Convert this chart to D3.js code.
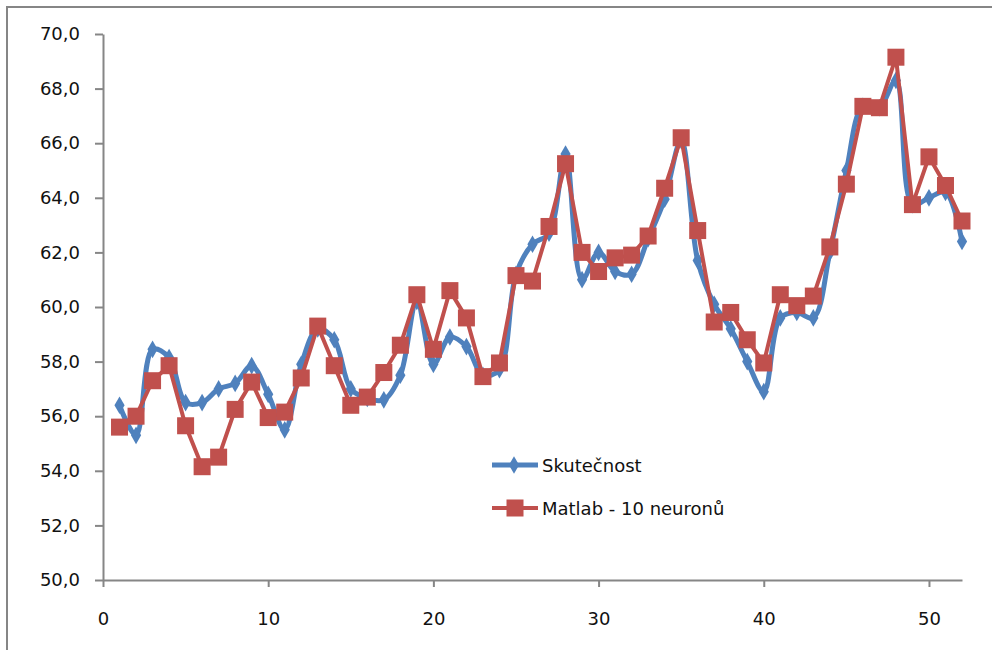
<!DOCTYPE html>
<html>
<head>
<meta charset="utf-8">
<script src="https://cdn.jsdelivr.net/npm/d3@7"></script>
<style>
  body { margin: 0; background: #fff; }
  .axis path, .axis line { stroke: #868686; stroke-width: 2; }
  .axis text { font-family: "DejaVu Sans", sans-serif; font-size: 18px; fill: #111; }
  .legend text { font-family: "DejaVu Sans", sans-serif; font-size: 18px; fill: #111; }
</style>
</head>
<body>
<div id="chart"></div>
<script>
// week index
var weeks = [1, 2, 3, 4, 5, 6, 7, 8, 9, 10, 11, 12, 13, 14, 15, 16, 17, 18, 19, 20,
             21, 22, 23, 24, 25, 26, 27, 28, 29, 30, 31, 32, 33, 34, 35, 36, 37, 38, 39, 40,
             41, 42, 43, 44, 45, 46, 47, 48, 49, 50, 51, 52];

var skutecnost = [56.4, 55.3, 58.45, 58.15, 56.5, 56.5, 57.0, 57.2, 57.85, 56.8,
                  55.5, 57.9, 59.2, 58.8, 57.0, 56.65, 56.6, 57.5, 60.2, 57.9,
                  58.9, 58.55, 57.5, 57.7, 61.2, 62.3, 62.7, 65.6, 61.0, 62.0,
                  61.3, 61.2, 62.5, 63.95, 66.1, 61.7, 60.1, 59.2, 58.0, 56.9,
                  59.6, 59.8, 59.6, 62.0, 65.0, 67.35, 67.3, 68.3, 63.75, 64.0,
                  64.2, 62.4];

var matlab = [55.6, 56.0, 57.3, 57.85, 55.65, 54.15, 54.5, 56.25, 57.25, 55.95,
              56.15, 57.4, 59.3, 57.85, 56.4, 56.7, 57.6, 58.6, 60.45, 58.45,
              60.6, 59.6, 57.45, 57.95, 61.15, 60.95, 62.95, 65.25, 62.0, 61.3,
              61.8, 61.9, 62.6, 64.35, 66.2, 62.8, 59.45, 59.8, 58.8, 57.95,
              60.45, 60.05, 60.4, 62.2, 64.5, 67.35, 67.3, 69.15, 63.75, 65.5,
              64.45, 63.15];

var xTicks = [0, 10, 20, 30, 40, 50];
var yTicks = [50, 52, 54, 56, 58, 60, 62, 64, 66, 68, 70];
var seriesNames = ["Skutečnost", "Matlab - 10 neuronů"];

var W = 992, H = 650;
var margin = {top: 34, right: 30, bottom: 70, left: 103};
var width  = W - margin.left - margin.right;
var height = H - margin.top - margin.bottom;

var blue = "#4f81bd", red = "#c0504d";

var svg = d3.select("#chart").append("svg")
  .attr("width", W)
  .attr("height", H);

// outer chart border
svg.append("rect")
  .attr("x", 7).attr("y", 7)
  .attr("width", W).attr("height", H)
  .attr("fill", "none")
  .attr("stroke", "#868686")
  .attr("stroke-width", 2);

var g = svg.append("g")
  .attr("transform", "translate(" + margin.left + "," + margin.top + ")");

var x = d3.scaleLinear().domain([0, 52]).range([0, width]);
var y = d3.scaleLinear().domain([50, 70]).range([height, 0]);

var fmt = function(d) { return d3.format(".1f")(d).replace(".", ","); };

g.append("g")
  .attr("class", "axis")
  .call(d3.axisLeft(y).tickValues(yTicks).tickFormat(fmt).tickSize(8).tickSizeOuter(0).tickPadding(15));

g.append("g")
  .attr("class", "axis")
  .attr("transform", "translate(0," + height + ")")
  .call(d3.axisBottom(x).tickValues(xTicks).tickFormat(d3.format("d")).tickSize(7).tickSizeOuter(0).tickPadding(25));

var lineBlue = d3.line()
  .x(function(d, i) { return x(weeks[i]); })
  .y(function(d) { return y(d); })
  .curve(d3.curveCatmullRom.alpha(0.5));

var lineRed = d3.line()
  .x(function(d, i) { return x(weeks[i]); })
  .y(function(d) { return y(d); });

g.append("path")
  .datum(skutecnost)
  .attr("fill", "none")
  .attr("stroke", blue)
  .attr("stroke-width", 5)
  .attr("d", lineBlue);

var diamond = d3.symbol().type(d3.symbolDiamond).size(90);

g.selectAll(".dot")
  .data(skutecnost)
  .enter().append("path")
  .attr("class", "dot")
  .attr("transform", function(d, i) { return "translate(" + x(weeks[i]) + "," + y(d) + ")"; })
  .attr("d", diamond)
  .attr("fill", blue);

g.append("path")
  .datum(matlab)
  .attr("fill", "none")
  .attr("stroke", red)
  .attr("stroke-width", 4)
  .attr("d", lineRed);

var sq = 17;
g.selectAll(".sq")
  .data(matlab)
  .enter().append("rect")
  .attr("class", "sq")
  .attr("x", function(d, i) { return x(weeks[i]) - sq / 2; })
  .attr("y", function(d) { return y(d) - sq / 2; })
  .attr("width", sq)
  .attr("height", sq)
  .attr("fill", red);

// legend
var legend = svg.append("g").attr("class", "legend");

var l1 = legend.append("g").attr("transform", "translate(492,465)");
l1.append("line").attr("x1", 0).attr("x2", 46).attr("stroke", blue).attr("stroke-width", 5);
l1.append("path").attr("transform", "translate(22,0)").attr("d", diamond).attr("fill", blue);
l1.append("text").attr("x", 50).attr("y", 7).text(seriesNames[0]);

var l2 = legend.append("g").attr("transform", "translate(492,508)");
l2.append("line").attr("x1", 0).attr("x2", 46).attr("stroke", red).attr("stroke-width", 4);
l2.append("rect").attr("x", 23 - sq / 2).attr("y", -sq / 2).attr("width", sq).attr("height", sq).attr("fill", red);
l2.append("text").attr("x", 50).attr("y", 7).text(seriesNames[1]);
</script>
</body>
</html>
